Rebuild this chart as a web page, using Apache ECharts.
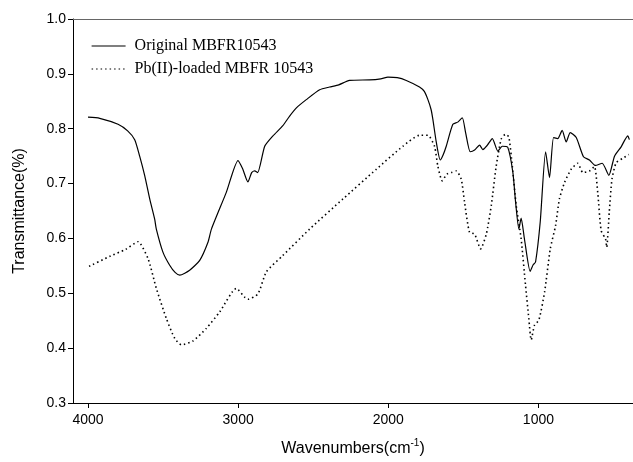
<!DOCTYPE html>
<html>
<head>
<meta charset="utf-8">
<script src="https://cdn.jsdelivr.net/npm/echarts@6/dist/echarts.min.js"></script>
<style>
  html, body { margin: 0; padding: 0; background: #fff; }
  #chart { width: 633px; height: 462px; }
</style>
</head>
<body>
<div id="chart"></div>
<script>
// --- Espectro FTIR ---
const seriesNames = ["Original MBFR10543", "Pb(II)-loaded MBFR 10543"];

const originalWn = [4000, 3922, 3800, 3736, 3689, 3656, 3622, 3589, 3556, 3545, 3501, 3456, 3420, 3389, 3323, 3256, 3201, 3178, 3079,
    3001, 2970, 2935, 2910, 2890, 2870, 2823, 2768, 2704, 2657, 2612, 2546, 2457, 2391, 2330, 2258, 2125, 2050, 2002,
    1940, 1880, 1792, 1760, 1736, 1715, 1703, 1680, 1654, 1635, 1614, 1570, 1537, 1507, 1485, 1454, 1425, 1392,
    1370, 1340, 1307, 1270, 1241, 1204, 1170, 1152, 1130, 1115, 1093, 1055, 1035, 1019, 988, 952, 926, 899, 871,
    842, 815, 788, 748, 700, 660, 620, 575, 531, 493, 449, 405, 394];
const originalT = [0.821, 0.819, 0.808, 0.796, 0.780, 0.750, 0.714, 0.672, 0.635, 0.617, 0.575, 0.551, 0.538, 0.533, 0.542, 0.560, 0.593, 0.617, 0.684,
    0.742, 0.727, 0.703, 0.720, 0.723, 0.720, 0.768, 0.787, 0.805, 0.823, 0.838, 0.853, 0.871, 0.876, 0.880, 0.888, 0.889, 0.891, 0.894,
    0.893, 0.888, 0.876, 0.868, 0.853, 0.835, 0.817, 0.775, 0.743, 0.752, 0.768, 0.808, 0.812, 0.820, 0.793, 0.758, 0.761, 0.770,
    0.762, 0.770, 0.782, 0.759, 0.768, 0.766, 0.720, 0.666, 0.617, 0.637, 0.599, 0.540, 0.552, 0.557, 0.630, 0.758, 0.711, 0.784, 0.782,
    0.797, 0.776, 0.793, 0.784, 0.749, 0.743, 0.733, 0.737, 0.715, 0.750, 0.767, 0.787, 0.780];

const loadedWn = [3993, 3850, 3750, 3667, 3600, 3545, 3478, 3423, 3378, 3301, 3212, 3123, 3012, 2957, 2935, 2868, 2812,
    2702, 2524, 2302, 2080, 1903, 1792, 1736, 1692, 1670, 1641, 1610, 1580, 1547, 1514, 1492, 1459, 1425, 1385, 1347,
    1314, 1281, 1248, 1219, 1197, 1174, 1148, 1115, 1086, 1064, 1048, 1026, 997, 959, 921, 886, 860, 826, 782, 738,
    704, 660, 627, 605, 582, 553, 545, 528, 510, 482, 438, 398];
const loadedT = [0.549, 0.568, 0.580, 0.594, 0.563, 0.509, 0.454, 0.418, 0.406, 0.413, 0.436, 0.466, 0.509, 0.493, 0.489, 0.499, 0.539,
    0.569, 0.617, 0.672, 0.726, 0.768, 0.788, 0.788, 0.768, 0.732, 0.705, 0.717, 0.720, 0.723, 0.708, 0.666, 0.611, 0.608, 0.581, 0.608,
    0.660, 0.732, 0.781, 0.790, 0.785, 0.732, 0.660, 0.599, 0.515, 0.454, 0.415, 0.442, 0.451, 0.502, 0.581, 0.623, 0.672, 0.702, 0.726, 0.737,
    0.720, 0.723, 0.731, 0.684, 0.614, 0.599, 0.584, 0.648, 0.708, 0.738, 0.746, 0.753];

const xTicks = [1000, 2000, 3000, 4000];

// --- Combinar x e y ---
function pares(xs, ys) {
    return xs.map((x, i) => [x, ys[i]]);
}

var myChart = echarts.init(document.getElementById("chart"));

myChart.setOption({
    animation: false,
    grid: { left: 73, right: 0, top: 19, bottom: 57 },
    legend: {
        orient: "vertical",
        left: 86,
        top: 33,
        itemWidth: 34,
        itemHeight: 14,
        itemGap: 7,
        itemStyle: { color: "transparent", borderWidth: 0, opacity: 0 },
        lineStyle: { width: 1.2 },
        textStyle: {
            fontFamily: "Liberation Serif",
            fontSize: 16,
            color: "#000",
            padding: [0, 0, 0, 4]
        },
        data: seriesNames
    },
    xAxis: [
        {
            type: "value",
            min: 370,
            max: 4100,
            inverse: true,
            name: "Wavenumbers(cm{sup|-1})",
            nameLocation: "middle",
            nameGap: 35,
            nameTextStyle: {
                fontFamily: "Liberation Sans",
                fontSize: 16,
                color: "#000",
                rich: {
                    sup: { fontSize: 10, verticalAlign: "top", padding: [0, 0, 12, 0], fontFamily: "Liberation Sans", color: "#000" }
                }
            },
            axisLine: { lineStyle: { color: "#000", width: 1 } },
            axisTick: { customValues: xTicks, length: 5, lineStyle: { color: "#000" } },
            axisLabel: {
                customValues: xTicks,
                fontFamily: "Liberation Sans",
                fontSize: 14,
                color: "#000",
                margin: 10,
                formatter: (v) => String(v)
            },
            splitLine: { show: false }
        },
        {
            type: "value",
            position: "top",
            min: 370,
            max: 4100,
            inverse: true,
            axisLine: { show: true, lineStyle: { color: "#666", width: 1 } },
            axisTick: { show: false },
            axisLabel: { show: false },
            splitLine: { show: false }
        }
    ],
    yAxis: {
        type: "value",
        min: 0.3,
        max: 1.0,
        interval: 0.1,
        name: "Transmittance(%)",
        nameLocation: "middle",
        nameGap: 45,
        nameTextStyle: { fontFamily: "Liberation Sans", fontSize: 16, color: "#000" },
        axisLine: { show: true, lineStyle: { color: "#000", width: 1 } },
        axisTick: { show: true, length: 5, lineStyle: { color: "#000" } },
        axisLabel: {
            fontFamily: "Liberation Sans",
            fontSize: 14,
            color: "#000",
            margin: 7,
            formatter: (v) => v.toFixed(1)
        },
        splitLine: { show: false }
    },
    series: [
        {
            name: seriesNames[0],
            type: "line",
            symbol: "none",
            smooth: 0.2,
            lineStyle: { color: "#000", width: 1.2 },
            itemStyle: { color: "#000" },
            data: pares(originalWn, originalT)
        },
        {
            name: seriesNames[1],
            type: "line",
            symbol: "none",
            smooth: 0.2,
            lineStyle: { color: "#000", width: 1.6, type: [1.5, 3] },
            itemStyle: { color: "#000" },
            data: pares(loadedWn, loadedT)
        }
    ]
});
</script>
</body>
</html>
